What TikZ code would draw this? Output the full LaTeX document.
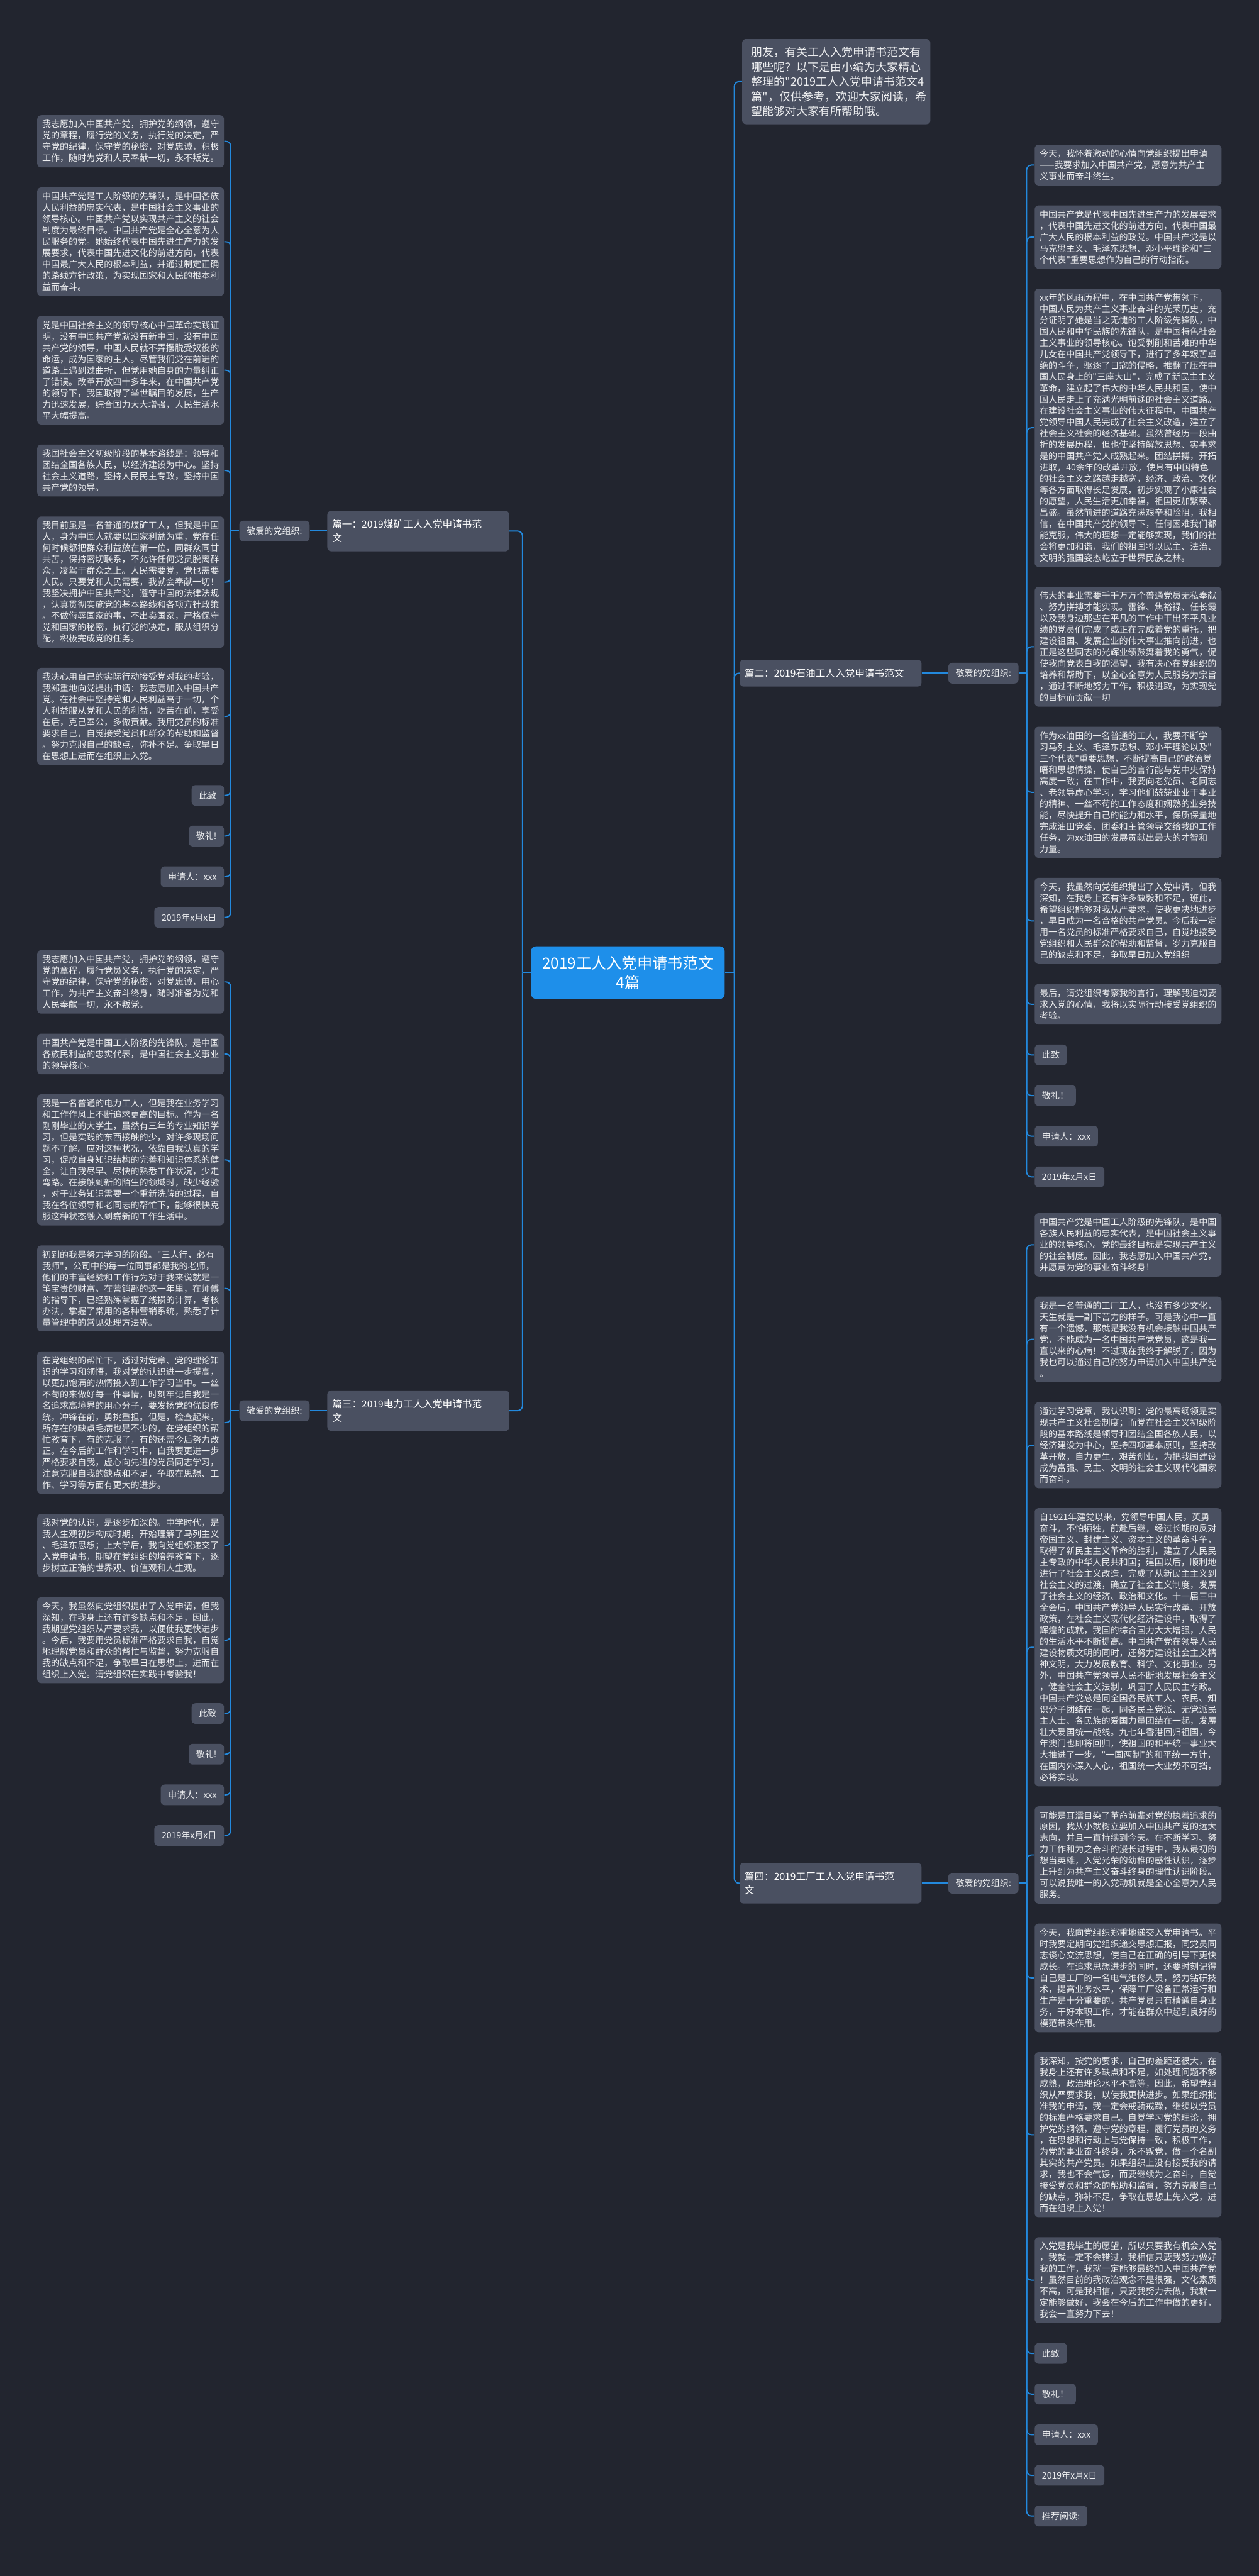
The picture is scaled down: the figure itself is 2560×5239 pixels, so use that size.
\documentclass[tikz,border=0pt]{standalone}
\usepackage{fontspec}
\setmainfont{Noto Sans CJK SC}[Ligatures=TeXOff]
\usepackage{xcolor}
\usetikzlibrary{positioning}
\definecolor{bgcol}{HTML}{22252F}
\definecolor{boxcol}{HTML}{4A5061}
\definecolor{txtcol}{HTML}{EDEEF0}
\definecolor{rootcol}{HTML}{1E8FEA}
\definecolor{linkcol}{HTML}{2389DD}

\begin{document}
\begin{tikzpicture}[x=0.02cm, y=-0.02cm, node distance=0.8cm,
    para/.style={rectangle, rounded corners=0.16cm, fill=boxcol, text=txtcol, text width=7.2cm, align=left,
        inner xsep=0.2cm, inner ysep=0.2cm, font=\fontsize{10.24pt}{13.09pt}\selectfont},
    tag/.style={rectangle, rounded corners=0.16cm, fill=boxcol, text=txtcol, inner xsep=0.3cm, inner ysep=0pt,
        minimum height=0.84cm, font=\fontsize{10.24pt}{13.09pt}\selectfont},
    branch/.style={rectangle, rounded corners=0.16cm, fill=boxcol, text=white, text width=7.0cm, align=left,
        inner xsep=0.2cm, inner ysep=0.36cm, font=\fontsize{11.38pt}{15.93pt}\selectfont},
    rootbox/.style={rectangle, rounded corners=0.2cm, fill=rootcol, text=white, align=center,
        minimum width=7.88cm, minimum height=2.14cm, font=\fontsize{17.64pt}{22.76pt}\selectfont},
    intro/.style={para, text width=6.9cm, inner xsep=0.38cm, inner ysep=0.32cm,
        font=\fontsize{13.09pt}{17.07pt}\selectfont},
    link/.style={draw=linkcol, line width=0.05cm, rounded corners=0.2cm}]

\fill[bgcol] (0,0) rectangle (2560,5239);
\useasboundingbox (0,0) rectangle (2560,5239);

\node[rootbox] (root) at (1277,1978) {2019工人入党申请书范文\\4篇};
\node[intro, anchor=west] (intro) at (1509,166) {朋友，有关工人入党申请书范文有\\哪些呢？以下是由小编为大家精心\\整理的"2019工人入党申请书范文4\\篇"，仅供参考，欢迎大家阅读，希\\望能够对大家有所帮助哦。};

\node[branch, anchor=east] (pian1) at (1036,1080) {篇一：2019煤矿工人入党申请书范\\文};
\node[branch, anchor=west] (pian2) at (1504,1369) {篇二：2019石油工人入党申请书范文};
\node[branch, anchor=east] (pian3) at (1036,2869) {篇三：2019电力工人入党申请书范\\文};
\node[branch, anchor=west] (pian4) at (1504,3830) {篇四：2019工厂工人入党申请书范\\文};

\node[tag, anchor=east] (dear1) at (630,1080) {敬爱的党组织:};
\node[tag, anchor=east] (dear2) at (2072,1369) {敬爱的党组织:};
\node[tag, anchor=east] (dear3) at (630,2869) {敬爱的党组织:};
\node[tag, anchor=east] (dear4) at (2072,3830) {敬爱的党组织:};

\node[para, anchor=north east] (one1) at (456,234) {我志愿加入中国共产党，拥护党的纲领，遵守\\党的章程，履行党的义务，执行党的决定，严\\守党的纪律，保守党的秘密，对党忠诚，积极\\工作，随时为党和人民奉献一切，永不叛党。};
\node[para, below=of one1] (one2) {中国共产党是工人阶级的先锋队，是中国各族\\人民利益的忠实代表，是中国社会主义事业的\\领导核心。中国共产党以实现共产主义的社会\\制度为最终目标。中国共产党是全心全意为人\\民服务的党。她始终代表中国先进生产力的发\\展要求，代表中国先进文化的前进方向，代表\\中国最广大人民的根本利益，并通过制定正确\\的路线方针政策，为实现国家和人民的根本利\\益而奋斗。};
\node[para, below=of one2] (one3) {党是中国社会主义的领导核心中国革命实践证\\明，没有中国共产党就没有新中国，没有中国\\共产党的领导，中国人民就不弄摆脱受奴役的\\命运，成为国家的主人。尽管我们党在前进的\\道路上遇到过曲折，但党用她自身的力量纠正\\了错误。改革开放四十多年来，在中国共产党\\的领导下，我国取得了举世瞩目的发展，生产\\力迅速发展，综合国力大大增强，人民生活水\\平大幅提高。};
\node[para, below=of one3] (one4) {我国社会主义初级阶段的基本路线是：领导和\\团结全国各族人民，以经济建设为中心。坚持\\社会主义道路，坚持人民民主专政，坚持中国\\共产党的领导。};
\node[para, below=of one4] (one5) {我目前虽是一名普通的煤矿工人，但我是中国\\人，身为中国人就要以国家利益为重，党在任\\何时候都把群众利益放在第一位，同群众同甘\\共苦，保持密切联系，不允许任何党员脱离群\\众，凌驾于群众之上。人民需要党，党也需要\\人民。只要党和人民需要，我就会奉献一切！\\我坚决拥护中国共产党，遵守中国的法律法规\\，认真贯彻实施党的基本路线和各项方针政策\\。不做侮辱国家的事，不出卖国家，严格保守\\党和国家的秘密，执行党的决定，服从组织分\\配，积极完成党的任务。};
\node[para, below=of one5] (one6) {我决心用自己的实际行动接受党对我的考验，\\我郑重地向党提出申请：我志愿加入中国共产\\党。在社会中坚持党和人民利益高于一切，个\\人利益服从党和人民的利益，吃苦在前，享受\\在后，克己奉公，多做贡献。我用党员的标准\\要求自己，自觉接受党员和群众的帮助和监督\\。努力克服自己的缺点，弥补不足。争取早日\\在思想上进而在组织上入党。};
\node[tag, below=of one6.south east, anchor=north east] (one7) {此致};
\node[tag, below=of one7.south east, anchor=north east] (one8) {敬礼!};
\node[tag, below=of one8.south east, anchor=north east] (one9) {申请人：xxx};
\node[tag, below=of one9.south east, anchor=north east] (one10) {2019年x月x日};

\node[para, anchor=north west] (two1) at (2104,294) {今天，我怀着激动的心情向党组织提出申请\\——我要求加入中国共产党，愿意为共产主\\义事业而奋斗终生。};
\node[para, below=of two1] (two2) {中国共产党是代表中国先进生产力的发展要求\\，代表中国先进文化的前进方向，代表中国最\\广大人民的根本利益的政党。中国共产党是以\\马克思主义、毛泽东思想、邓小平理论和"三\\个代表"重要思想作为自己的行动指南。};
\node[para, below=of two2] (two3) {xx年的风雨历程中，在中国共产党带领下，\\中国人民为共产主义事业奋斗的光荣历史，充\\分证明了她是当之无愧的工人阶级先锋队，中\\国人民和中华民族的先锋队，是中国特色社会\\主义事业的领导核心。饱受剥削和苦难的中华\\儿女在中国共产党领导下，进行了多年艰苦卓\\绝的斗争，驱逐了日寇的侵略，推翻了压在中\\国人民身上的"三座大山"，完成了新民主主义\\革命，建立起了伟大的中华人民共和国，使中\\国人民走上了充满光明前途的社会主义道路。\\在建设社会主义事业的伟大征程中，中国共产\\党领导中国人民完成了社会主义改造，建立了\\社会主义社会的经济基础。虽然曾经历一段曲\\折的发展历程，但也使坚持解放思想、实事求\\是的中国共产党人成熟起来。团结拼搏，开拓\\进取，40余年的改革开放，使具有中国特色\\的社会主义之路越走越宽，经济、政治、文化\\等各方面取得长足发展，初步实现了小康社会\\的愿望，人民生活更加幸福，祖国更加繁荣、\\昌盛。虽然前进的道路充满艰辛和险阻，我相\\信，在中国共产党的领导下，任何困难我们都\\能克服，伟大的理想一定能够实现，我们的社\\会将更加和谐，我们的祖国将以民主、法治、\\文明的强国姿态屹立于世界民族之林。};
\node[para, below=of two3] (two4) {伟大的事业需要千千万万个普通党员无私奉献\\、努力拼搏才能实现。雷锋、焦裕禄、任长霞\\以及我身边那些在平凡的工作中干出不平凡业\\绩的党员们完成了或正在完成着党的重托，把\\建设祖国、发展企业的伟大事业推向前进，也\\正是这些同志的光辉业绩鼓舞着我的勇气，促\\使我向党表白我的渴望，我有决心在党组织的\\培养和帮助下，以全心全意为人民服务为宗旨\\，通过不断地努力工作，积极进取，为实现党\\的目标而贡献一切};
\node[para, below=of two4] (two5) {作为xx油田的一名普通的工人，我要不断学\\习马列主义、毛泽东思想、邓小平理论以及"\\三个代表"重要思想，不断提高自己的政治觉\\晤和思想情操，使自己的言行能与党中央保持\\高度一致；在工作中，我要向老党员、老同志\\、老领导虚心学习，学习他们兢兢业业干事业\\的精神、一丝不苟的工作态度和娴熟的业务技\\能，尽快提升自己的能力和水平，保质保量地\\完成油田党委、团委和主管领导交给我的工作\\任务，为xx油田的发展贡献出最大的才智和\\力量。};
\node[para, below=of two5] (two6) {今天，我虽然向党组织提出了入党申请，但我\\深知，在我身上还有许多缺毅和不足，班此，\\希望组织能够对我从严要求，使我更决地进步\\，早日成为一名合格的共产党员。今后我一定\\用一名党员的标准严格要求自己，自觉地接受\\党组织和人民群众的帮助和监督，岁力克服自\\己的缺点和不足，争取早日加入党组织};
\node[para, below=of two6] (two7) {最后，请党组织考察我的言行，理解我迫切要\\求入党的心情，我将以实际行动接受党组织的\\考验。};
\node[tag, below=of two7.south west, anchor=north west] (two8) {此致};
\node[tag, below=of two8.south west, anchor=north west] (two9) {敬礼！};
\node[tag, below=of two9.south west, anchor=north west] (two10) {申请人：xxx};
\node[tag, below=of two10.south west, anchor=north west] (two11) {2019年x月x日};

\node[para, anchor=north east] (three1) at (456,1932) {我志愿加入中国共产党，拥护党的纲领，遵守\\党的章程，履行党员义务，执行党的决定，严\\守党的纪律，保守党的秘密，对党忠诚，用心\\工作，为共产主义奋斗终身，随时准备为党和\\人民奉献一切，永不叛党。};
\node[para, below=of three1] (three2) {中国共产党是中国工人阶级的先锋队，是中国\\各族民利益的忠实代表，是中国社会主义事业\\的领导核心。};
\node[para, below=of three2] (three3) {我是一名普通的电力工人，但是我在业务学习\\和工作作风上不断追求更高的目标。作为一名\\刚刚毕业的大学生，虽然有三年的专业知识学\\习，但是实践的东西接触的少，对许多现场问\\题不了解。应对这种状况，依靠自我认真的学\\习，促成自身知识结构的完善和知识体系的健\\全，让自我尽早、尽快的熟悉工作状况，少走\\弯路。在接触到新的陌生的领域时，缺少经验\\，对于业务知识需要一个重新洗牌的过程，自\\我在各位领导和老同志的帮忙下，能够很快克\\服这种状态融入到崭新的工作生活中。};
\node[para, below=of three3] (three4) {初到的我是努力学习的阶段。"三人行，必有\\我师"，公司中的每一位同事都是我的老师，\\他们的丰富经验和工作行为对于我来说就是一\\笔宝贵的财富。在营销部的这一年里，在师傅\\的指导下，已经熟练掌握了线损的计算，考核\\办法，掌握了常用的各种营销系统，熟悉了计\\量管理中的常见处理方法等。};
\node[para, below=of three4] (three5) {在党组织的帮忙下，透过对党章、党的理论知\\识的学习和领悟，我对党的认识进一步提高，\\以更加饱满的热情投入到工作学习当中。一丝\\不苟的来做好每一件事情，时刻牢记自我是一\\名追求高境界的用心分子，要发扬党的优良传\\统，冲锋在前，勇挑重担。但是，检查起来，\\所存在的缺点毛病也是不少的，在党组织的帮\\忙教育下，有的克服了，有的还需今后努力改\\正。在今后的工作和学习中，自我要更进一步\\严格要求自我，虚心向先进的党员同志学习，\\注意克服自我的缺点和不足，争取在思想、工\\作、学习等方面有更大的进步。};
\node[para, below=of three5] (three6) {我对党的认识，是逐步加深的。中学时代，是\\我人生观初步构成时期，开始理解了马列主义\\、毛泽东思想；上大学后，我向党组织递交了\\入党申请书，期望在党组织的培养教育下，逐\\步树立正确的世界观、价值观和人生观。};
\node[para, below=of three6] (three7) {今天，我虽然向党组织提出了入党申请，但我\\深知，在我身上还有许多缺点和不足，因此，\\我期望党组织从严要求我，以便使我更快进步\\。今后，我要用党员标准严格要求自我，自觉\\地理解党员和群众的帮忙与监督，努力克服自\\我的缺点和不足，争取早日在思想上，进而在\\组织上入党。请党组织在实践中考验我！};
\node[tag, below=of three7.south east, anchor=north east] (three8) {此致};
\node[tag, below=of three8.south east, anchor=north east] (three9) {敬礼!};
\node[tag, below=of three9.south east, anchor=north east] (three10) {申请人：xxx};
\node[tag, below=of three10.south east, anchor=north east] (three11) {2019年x月x日};

\node[para, anchor=north west] (four1) at (2104,2467) {中国共产党是中国工人阶级的先锋队，是中国\\各族人民利益的忠实代表，是中国社会主义事\\业的领导核心。党的最终目标是实现共产主义\\的社会制度。因此，我志愿加入中国共产党，\\并愿意为党的事业奋斗终身！};
\node[para, below=of four1] (four2) {我是一名普通的工厂工人，也没有多少文化，\\天生就是一副下苦力的样子。可是我心中一直\\有一个遗憾，那就是我没有机会接触中国共产\\党，不能成为一名中国共产党党员，这是我一\\直以来的心病！不过现在我终于解脱了，因为\\我也可以通过自己的努力申请加入中国共产党\\。};
\node[para, below=of four2] (four3) {通过学习党章，我认识到：党的最高纲领是实\\现共产主义社会制度；而党在社会主义初级阶\\段的基本路线是领导和团结全国各族人民，以\\经济建设为中心，坚持四项基本原则，坚持改\\革开放，自力更生，艰苦创业，为把我国建设\\成为富强、民主、文明的社会主义现代化国家\\而奋斗。};
\node[para, below=of four3] (four4) {自1921年建党以来，党领导中国人民，英勇\\奋斗，不怕牺牲，前赴后继，经过长期的反对\\帝国主义、封建主义、资本主义的革命斗争，\\取得了新民主主义革命的胜利，建立了人民民\\主专政的中华人民共和国；建国以后，顺利地\\进行了社会主义改造，完成了从新民主主义到\\社会主义的过渡，确立了社会主义制度，发展\\了社会主义的经济、政治和文化。十一届三中\\全会后，中国共产党领导人民实行改革、开放\\政策，在社会主义现代化经济建设中，取得了\\辉煌的成就，我国的综合国力大大增强，人民\\的生活水平不断提高。中国共产党在领导人民\\建设物质文明的同时，还努力建设社会主义精\\神文明，大力发展教育、科学、文化事业。另\\外，中国共产党领导人民不断地发展社会主义\\，健全社会主义法制，巩固了人民民主专政。\\中国共产党总是同全国各民族工人、农民、知\\识分子团结在一起，同各民主党派、无党派民\\主人士、各民族的爱国力量团结在一起，发展\\壮大爱国统一战线。九七年香港回归祖国，今\\年澳门也即将回归，使祖国的和平统一事业大\\大推进了一步。"一国两制"的和平统一方针，\\在国内外深入人心，祖国统一大业势不可挡，\\必将实现。};
\node[para, below=of four4] (four5) {可能是耳濡目染了革命前辈对党的执着追求的\\原因，我从小就树立要加入中国共产党的远大\\志向，并且一直持续到今天。在不断学习、努\\力工作和为之奋斗的漫长过程中，我从最初的\\想当英雄，入党光荣的幼稚的感性认识，逐步\\上升到为共产主义奋斗终身的理性认识阶段。\\可以说我唯一的入党动机就是全心全意为人民\\服务。};
\node[para, below=of four5] (four6) {今天，我向党组织郑重地递交入党申请书。平\\时我要定期向党组织递交思想汇报，同党员同\\志谈心交流思想，使自己在正确的引导下更快\\成长。在追求思想进步的同时，还要时刻记得\\自己是工厂的一名电气维修人员，努力钻研技\\术，提高业务水平，保障工厂设备正常运行和\\生产是十分重要的。共产党员只有精通自身业\\务，干好本职工作，才能在群众中起到良好的\\模范带头作用。};
\node[para, below=of four6] (four7) {我深知，按党的要求，自己的差距还很大，在\\我身上还有许多缺点和不足，如处理问题不够\\成熟，政治理论水平不高等，因此，希望党组\\织从严要求我，以使我更快进步。如果组织批\\准我的申请，我一定会戒骄戒躁，继续以党员\\的标准严格要求自己。自觉学习党的理论，拥\\护党的纲领，遵守党的章程，履行党员的义务\\，在思想和行动上与党保持一致，积极工作，\\为党的事业奋斗终身，永不叛党，做一个名副\\其实的共产党员。如果组织上没有接受我的请\\求，我也不会气馁，而要继续为之奋斗，自觉\\接受党员和群众的帮助和监督，努力克服自己\\的缺点，弥补不足，争取在思想上先入党，进\\而在组织上入党！};
\node[para, below=of four7] (four8) {入党是我毕生的愿望，所以只要我有机会入党\\，我就一定不会错过，我相信只要我努力做好\\我的工作，我就一定能够最终加入中国共产党\\！虽然目前的我政治观念不是很强，文化素质\\不高，可是我相信，只要我努力去做，我就一\\定能够做好，我会在今后的工作中做的更好，\\我会一直努力下去！};
\node[tag, below=of four8.south west, anchor=north west] (four9) {此致};
\node[tag, below=of four9.south west, anchor=north west] (four10) {敬礼！};
\node[tag, below=of four10.south west, anchor=north west] (four11) {申请人：xxx};
\node[tag, below=of four11.south west, anchor=north west] (four12) {2019年x月x日};
\node[tag, below=of four12.south west, anchor=north west] (four13) {推荐阅读:};

\coordinate (rbus) at ([xshift=0.38cm]root.east);
\coordinate (lbus) at ([xshift=-0.34cm]root.west);
\draw[link] (root.east) -- (rbus);
\draw[link] (root.west) -- (lbus);
\draw[link] (rbus) |- (intro.west);
\draw[link] (rbus) |- (pian2.west);
\draw[link] (rbus) |- (pian4.west);
\draw[link] (lbus) |- (pian1.east);
\draw[link] (lbus) |- (pian3.east);

\draw[link] (pian1.west) -- (dear1.east);
\draw[link] (pian2.east) -- (dear2.west);
\draw[link] (pian3.west) -- (dear3.east);
\draw[link] (pian4.east) -- (dear4.west);

\coordinate (bus1) at ([xshift=-0.34cm]dear1.west);
\coordinate (bus2) at ([xshift=0.32cm]dear2.east);
\coordinate (bus3) at ([xshift=-0.34cm]dear3.west);
\coordinate (bus4) at ([xshift=0.32cm]dear4.east);
\draw[link] (dear1.west) -- (bus1);
\draw[link] (dear2.east) -- (bus2);
\draw[link] (dear3.west) -- (bus3);
\draw[link] (dear4.east) -- (bus4);

\draw[link] (bus1) |- (one1.east);
\draw[link] (bus1) |- (one2.east);
\draw[link] (bus1) |- (one3.east);
\draw[link] (bus1) |- (one4.east);
\draw[link] (bus1) |- (one5.east);
\draw[link] (bus1) |- (one6.east);
\draw[link] (bus1) |- (one7.east);
\draw[link] (bus1) |- (one8.east);
\draw[link] (bus1) |- (one9.east);
\draw[link] (bus1) |- (one10.east);

\draw[link] (bus2) |- (two1.west);
\draw[link] (bus2) |- (two2.west);
\draw[link] (bus2) |- (two3.west);
\draw[link] (bus2) |- (two4.west);
\draw[link] (bus2) |- (two5.west);
\draw[link] (bus2) |- (two6.west);
\draw[link] (bus2) |- (two7.west);
\draw[link] (bus2) |- (two8.west);
\draw[link] (bus2) |- (two9.west);
\draw[link] (bus2) |- (two10.west);
\draw[link] (bus2) |- (two11.west);

\draw[link] (bus3) |- (three1.east);
\draw[link] (bus3) |- (three2.east);
\draw[link] (bus3) |- (three3.east);
\draw[link] (bus3) |- (three4.east);
\draw[link] (bus3) |- (three5.east);
\draw[link] (bus3) |- (three6.east);
\draw[link] (bus3) |- (three7.east);
\draw[link] (bus3) |- (three8.east);
\draw[link] (bus3) |- (three9.east);
\draw[link] (bus3) |- (three10.east);
\draw[link] (bus3) |- (three11.east);

\draw[link] (bus4) |- (four1.west);
\draw[link] (bus4) |- (four2.west);
\draw[link] (bus4) |- (four3.west);
\draw[link] (bus4) |- (four4.west);
\draw[link] (bus4) |- (four5.west);
\draw[link] (bus4) |- (four6.west);
\draw[link] (bus4) |- (four7.west);
\draw[link] (bus4) |- (four8.west);
\draw[link] (bus4) |- (four9.west);
\draw[link] (bus4) |- (four10.west);
\draw[link] (bus4) |- (four11.west);
\draw[link] (bus4) |- (four12.west);
\draw[link] (bus4) |- (four13.west);
\end{tikzpicture}
\end{document}
